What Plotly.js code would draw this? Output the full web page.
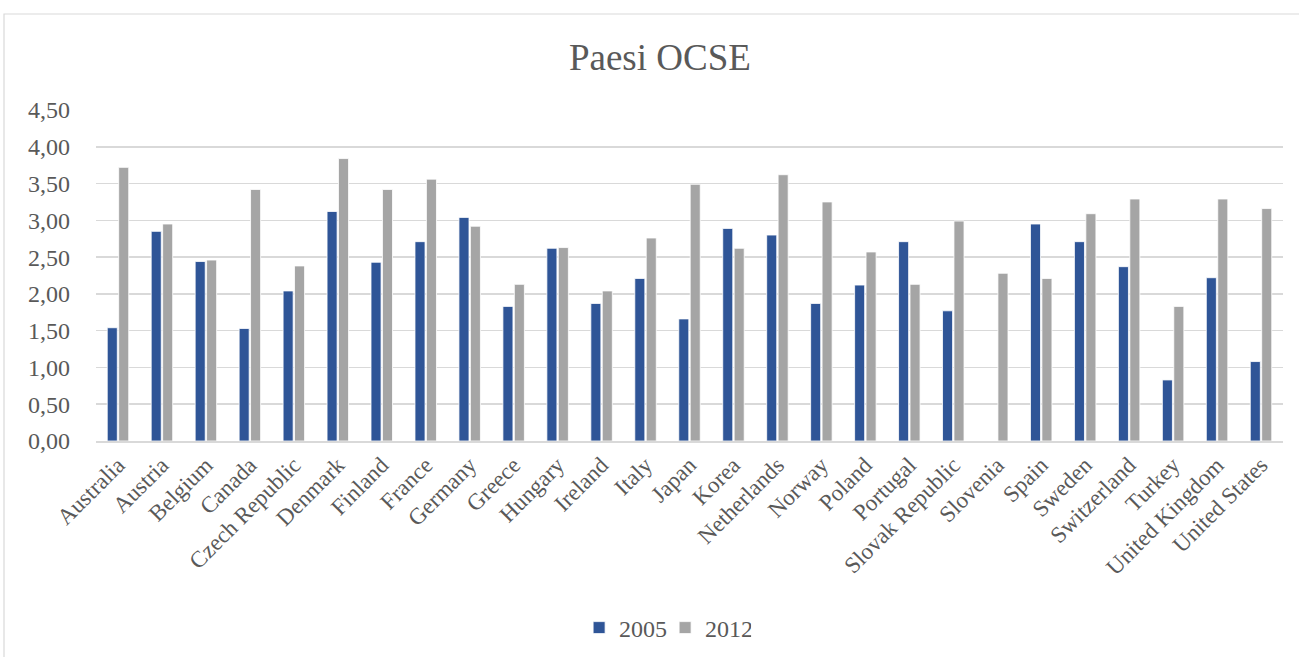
<!DOCTYPE html>
<html>
<head>
<meta charset="utf-8">
<script src="https://cdn.plot.ly/plotly-3.0.1.min.js"></script>
<style>html,body{margin:0;padding:0;background:#fff;}#chart{width:1299px;height:657px;}</style>
</head>
<body>
<div id="chart"></div>
<script>
const countries = ["Australia","Austria","Belgium","Canada","Czech Republic","Denmark","Finland","France","Germany","Greece","Hungary","Ireland","Italy","Japan","Korea","Netherlands","Norway","Poland","Portugal","Slovak Republic","Slovenia","Spain","Sweden","Switzerland","Turkey","United Kingdom","United States"];
const values2005 = [1.54,2.85,2.44,1.53,2.04,3.12,2.43,2.71,3.04,1.83,2.62,1.87,2.21,1.66,2.89,2.80,1.87,2.12,2.71,1.77,null,2.95,2.71,2.37,0.83,2.22,1.08];
const values2012 = [3.72,2.95,2.46,3.42,2.38,3.84,3.42,3.56,2.92,2.13,2.63,2.04,2.76,3.49,2.62,3.62,3.25,2.57,2.13,2.99,2.28,2.21,3.09,3.29,1.83,3.29,3.16];
const seriesNames = ["2005","2012"];

const fontFam = "Liberation Serif";
const txtColor = "#595959";

const traces = [
  {type:"bar", name:seriesNames[0], x:countries, y:values2005,
   marker:{color:"#2F5597", line:{color:"#ffffff", width:0.8}}},
  {type:"bar", name:seriesNames[1], x:countries, y:values2012,
   marker:{color:"#A5A5A5", line:{color:"#ffffff", width:0.8}}}
];

const layout = {
  width:1299, height:657,
  margin:{l:96, r:16, t:110, b:216, autoexpand:false},
  paper_bgcolor:"#ffffff", plot_bgcolor:"#ffffff",
  separators:",.",
  font:{family:fontFam, color:txtColor, size:22},
  title:{text:"Paesi OCSE", font:{family:fontFam, size:37, color:txtColor},
         xref:"container", x:0.508, xanchor:"center", yref:"container", y:0.913, yanchor:"middle"},
  barmode:"group", bargap:0.48, bargroupgap:0.12,
  xaxis:{tickangle:-45, tickfont:{family:fontFam, size:23, color:txtColor},
         showgrid:false, showline:true, linecolor:"#d9d9d9", linewidth:1.5, ticks:"", automargin:false},
  yaxis:{range:[0,4.5], dtick:0.5, tickformat:".2f", showgrid:true, gridcolor:"#d9d9d9", gridwidth:1.5,
         zeroline:false, showline:false, tickfont:{family:fontFam, size:24, color:txtColor}, ticks:"", ticklen:0,
         ticklabelstandoff:25, automargin:false},
  showlegend:true,
  legend:{orientation:"h", x:0.407, xanchor:"left", y:-0.565, yanchor:"middle",
          font:{family:fontFam, size:24, color:txtColor}, traceorder:"normal",
          entrywidth:41, entrywidthmode:"pixels"},
  shapes:[{type:"rect", xref:"paper", yref:"paper", x0:-0.0775, x1:1.02, y0:-0.7, y1:1.290,
           line:{color:"#d9d9d9", width:1.2}, fillcolor:"rgba(0,0,0,0)", layer:"below"}]
};

Plotly.newPlot("chart", traces, layout, {displayModeBar:false, staticPlot:true});
</script>
</body>
</html>
